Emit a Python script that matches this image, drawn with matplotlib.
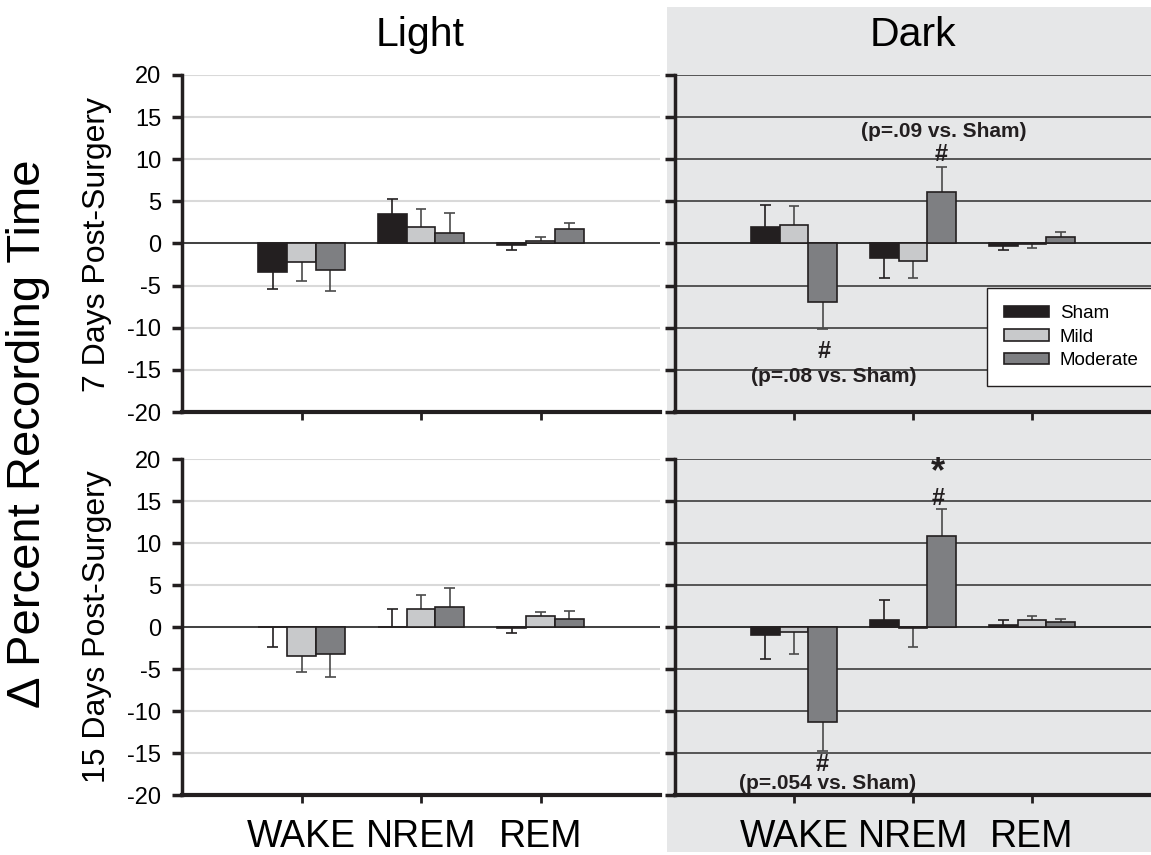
import numpy as np
import matplotlib
matplotlib.use("Agg")
import matplotlib.pyplot as plt
from matplotlib.patches import Rectangle

plt.rcParams['font.family'] = ['Liberation Sans', 'DejaVu Sans']
plt.rcParams['axes.unicode_minus'] = False

STATES = ["WAKE", "NREM", "REM"]
GROUPS = ["Sham", "Mild", "Moderate"]

# means per group, ordered WAKE, NREM, REM
light_7_sham = [-3.4, 3.5, -0.15]
light_7_mild = [-2.2, 1.9, 0.3]
light_7_mod = [-3.1, 1.3, 1.7]
light_7_sham_err = [2.0, 1.8, 0.6]
light_7_mild_err = [2.3, 2.2, 0.45]
light_7_mod_err = [2.5, 2.3, 0.75]

dark_7_sham = [1.9, -1.75, -0.25]
dark_7_mild = [2.25, -2.1, -0.1]
dark_7_mod = [-6.9, 6.1, 0.8]
dark_7_sham_err = [2.65, 2.35, 0.5]
dark_7_mild_err = [2.15, 2.0, 0.4]
dark_7_mod_err = [3.3, 3.0, 0.6]

light_15_sham = [-0.05, 0.05, -0.08]
light_15_mild = [-3.4, 2.1, 1.35]
light_15_mod = [-3.25, 2.4, 0.9]
light_15_sham_err = [2.35, 2.15, 0.67]
light_15_mild_err = [1.9, 1.7, 0.45]
light_15_mod_err = [2.65, 2.2, 0.95]

dark_15_sham = [-0.95, 0.8, 0.25]
dark_15_mild = [-0.65, -0.15, 0.85]
dark_15_mod = [-11.35, 10.8, 0.55]
dark_15_sham_err = [2.85, 2.45, 0.55]
dark_15_mild_err = [2.6, 2.25, 0.5]
dark_15_mod_err = [3.45, 3.3, 0.45]

BAR_COLORS = ['#231f20', '#c8c9cb', '#7e7f82']
ERR_COLORS = ['#231f20', '#4a4a4a', '#4a4a4a']
EDGE = '#231f20'
GRAY_BG = '#e6e7e8'

W = 1151
H = 855
fig = plt.figure(figsize=(W / 100, H / 100), dpi=100)

# shaded "Dark" half of the figure, kept behind the axes
fig.patches.append(Rectangle((667 / W, 1 - 852 / H), 1 - 667 / W, (852 - 7) / H,
                             transform=fig.transFigure, facecolor=GRAY_BG,
                             edgecolor='none', zorder=-5))


def px_axes(x0, y0, x1, y1):
    return fig.add_axes([x0 / W, 1 - y1 / H, (x1 - x0) / W, (y1 - y0) / H])


def draw_panel(ax, means, errs, dark, bottom):
    x = np.arange(1, len(STATES) + 1)
    width = 0.24
    offsets = [-width, 0, width]
    ax.set_xlim(0, 4)
    ax.set_ylim(-20, 20)
    ax.set_yticks(np.arange(-20, 21, 5))
    ax.set_xticks(x)
    if dark:
        ax.set_facecolor(GRAY_BG)
        ax.grid(axis='y', color='#3c3c3c', lw=1.2, zorder=0)
    else:
        ax.set_facecolor('white')
        ax.grid(axis='y', color='#d9d9d9', lw=1.5, zorder=0)
    ax.set_axisbelow(True)
    ax.axhline(0, color='#333333', lw=1.3, zorder=1)
    for k in range(3):
        xs = x + offsets[k]
        m = np.array(means[k])
        e = np.array(errs[k])
        ax.bar(xs, m, width=width, color=BAR_COLORS[k], edgecolor=EDGE,
               lw=1.2, zorder=3, label=GROUPS[k])
        tips = m + np.sign(m) * e
        ax.vlines(xs, m, tips, color=ERR_COLORS[k], lw=1.2, zorder=2)
        ax.hlines(tips, xs - 0.045, xs + 0.045, color=ERR_COLORS[k], lw=1.2, zorder=2)
    for s in ['top', 'right']:
        ax.spines[s].set_visible(False)
    ax.spines['left'].set_linewidth(2.5)
    ax.spines['bottom'].set_linewidth(3)
    ax.spines['left'].set_color(EDGE)
    ax.spines['bottom'].set_color(EDGE)
    ax.tick_params(axis='y', length=7, width=2.5, color=EDGE, labelsize=17, pad=8)
    ax.tick_params(axis='x', length=6, width=2, color=EDGE, labelsize=27, pad=11)
    if dark:
        ax.tick_params(axis='y', labelleft=False)
    if bottom:
        ax.set_xticklabels(STATES)
    else:
        ax.set_xticklabels([])


ax_l7 = px_axes(182, 75, 660, 412)
ax_d7 = px_axes(675, 75, 1151, 412)
ax_l15 = px_axes(182, 459, 660, 795)
ax_d15 = px_axes(675, 459, 1151, 795)

draw_panel(ax_l7, [light_7_sham, light_7_mild, light_7_mod],
           [light_7_sham_err, light_7_mild_err, light_7_mod_err], False, False)
draw_panel(ax_d7, [dark_7_sham, dark_7_mild, dark_7_mod],
           [dark_7_sham_err, dark_7_mild_err, dark_7_mod_err], True, False)
draw_panel(ax_l15, [light_15_sham, light_15_mild, light_15_mod],
           [light_15_sham_err, light_15_mild_err, light_15_mod_err], False, True)
draw_panel(ax_d15, [dark_15_sham, dark_15_mild, dark_15_mod],
           [dark_15_sham_err, dark_15_mild_err, dark_15_mod_err], True, True)

# significance annotations
bold = dict(fontweight='bold', ha='center', va='center', color='#231f20')
ax_d7.text(2.255, 13.3, "(p=.09 vs. Sham)", fontsize=15, **bold)
ax_d7.text(2.24, 10.6, "#", fontsize=17, **bold)
ax_d7.text(1.25, -12.8, "#", fontsize=17, **bold)
ax_d7.text(1.33, -15.8, "(p=.08 vs. Sham)", fontsize=15, **bold)
ax_d15.text(2.21, 18.4, "*", fontsize=26, **bold)
ax_d15.text(2.21, 15.3, "#", fontsize=17, **bold)
ax_d15.text(1.24, -16.4, "#", fontsize=17, **bold)
ax_d15.text(1.28, -18.6, "(p=.054 vs. Sham)", fontsize=15, **bold)

leg = ax_d7.legend(loc='lower left', bbox_to_anchor=(0.655, 0.077), fontsize=13.5,
                   frameon=True, fancybox=False, handlelength=2.4, handleheight=0.55,
                   handletextpad=0.6, labelspacing=0.35, borderpad=0.9,
                   borderaxespad=0)
leg.get_frame().set_edgecolor('#231f20')
leg.get_frame().set_linewidth(1.0)
leg.get_frame().set_facecolor('white')
leg.get_frame().set_alpha(1)

fig.text(420 / W, 1 - 35 / H, "Light", fontsize=29.5, ha='center', va='center')
fig.text(913 / W, 1 - 35 / H, "Dark", fontsize=29.5, ha='center', va='center')
fig.text(28 / W, 1 - 434 / H, "\u0394 Percent Recording Time", fontsize=34,
         rotation=90, ha='center', va='center')
fig.text(97 / W, 1 - 245 / H, "7 Days Post-Surgery", fontsize=23,
         rotation=90, ha='center', va='center')
fig.text(97 / W, 1 - 627 / H, "15 Days Post-Surgery", fontsize=23,
         rotation=90, ha='center', va='center')

fig.savefig("out.png", dpi=100)
